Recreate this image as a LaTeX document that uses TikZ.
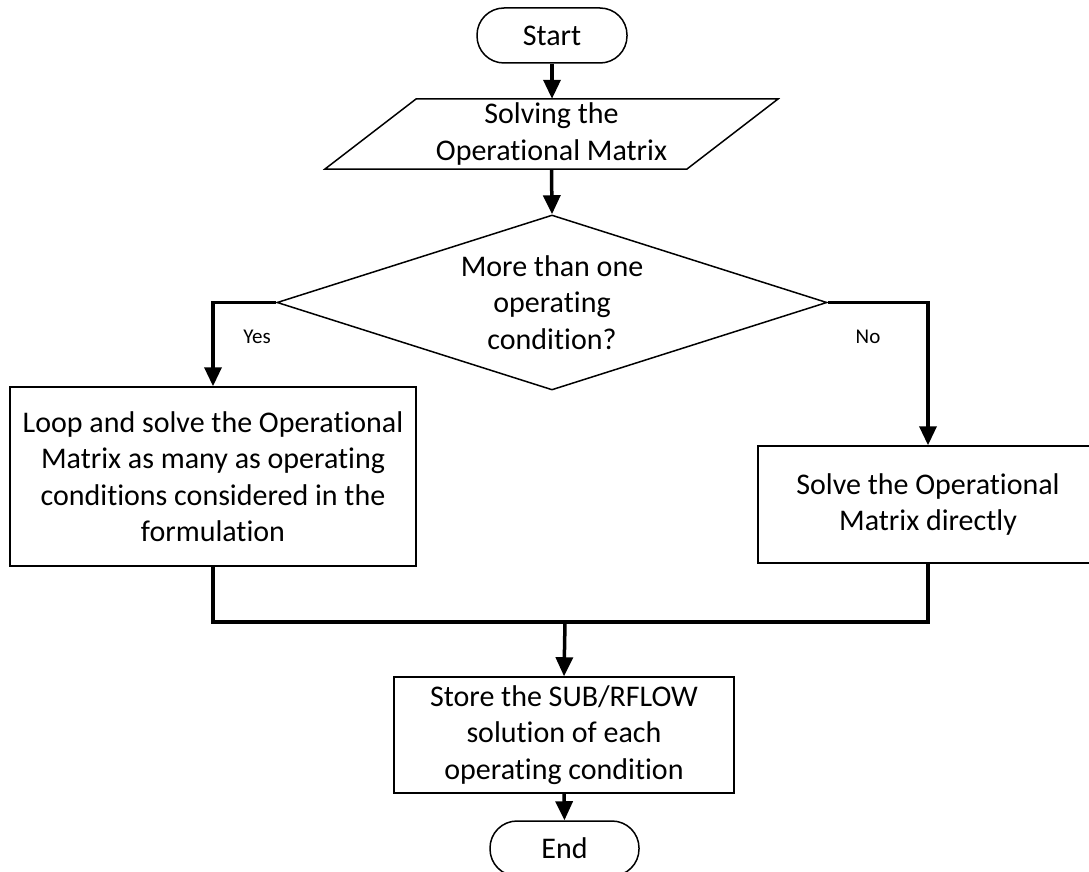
\documentclass[tikz,border=0pt]{standalone}
\usepackage{fontspec}
\setmainfont{Carlito}[RawFeature={-liga;-clig;-calt;-dlig}]
\usetikzlibrary{shapes.geometric,arrows.meta}
\tikzset{
  x=1pt, y=-1pt,
  shapeline/.style={draw=black, line width=1.5pt},
  boxnode/.style={shapeline, rectangle, align=center, inner sep=0pt,
    font=\fontsize{30}{36.5}\selectfont},
  termnode/.style={shapeline, rectangle, rounded corners=27pt, inner sep=0pt,
    font=\fontsize{30}{36.5}\selectfont},
  txt/.style={align=center, inner sep=0pt, font=\fontsize{30}{36.5}\selectfont},
  flow/.style={line width=3.5pt, -{Triangle[length=19pt,width=17pt]}},
  flowline/.style={line width=3.5pt},
  lbl/.style={inner sep=0pt, font=\fontsize{21}{24}\selectfont},
}
\begin{document}
\begin{tikzpicture}
\path[use as bounding box] (0,0) rectangle (1089,872);
\clip (0,0) rectangle (1089,872);

% Start
\node[termnode, minimum width=150pt, minimum height=55pt] (start) at (552,35.5) {Start};

% Parallelogram
\draw[shapeline, line join=miter] (416,99) -- (778,99) -- (687,169) -- (325,169) -- cycle;
\node[txt, minimum width=280pt, minimum height=70pt] (para) at (551.5,134)
  {Solving the\\Operational Matrix};

% Decision
\node[shapeline, diamond, minimum width=550pt, minimum height=175pt, inner sep=0pt,
  shape aspect=3.14, align=center, font=\fontsize{30}{36.5}\selectfont]
  (dec) at (552,302.5) {More than one\\operating\\condition?};

% Left box
\node[boxnode, minimum width=406pt, minimum height=179pt] (loop) at (213,476.5)
  {Loop and solve the Operational\\Matrix as many as operating\\conditions considered in the\\formulation};

% Right box (clipped at image edge)
\node[boxnode, minimum width=340pt, minimum height=117pt] (direct) at (928,504.5)
  {Solve the Operational\\Matrix directly};

% Store box
\node[boxnode, minimum width=340pt, minimum height=116pt] (store) at (564,735)
  {Store the SUB/RFLOW\\solution of each\\operating condition};

% End
\node[termnode, minimum width=149pt, minimum height=55pt] (end) at (564.5,848.5) {End};

\coordinate (join) at (565,622);

% Connectors
\draw[flow] (start.south) -- (start.south |- para.north);
\draw[flow] (para.south) -- (dec.north);
\draw[flow] (dec.west) -| (loop.north);
\draw[flow] (dec.east) -| (direct.north);
\draw[flowline] (loop.south) |- (join) -| (direct.south);
\draw[flow] (join) -- (store.north);
\draw[flow] (store.south) -- (end.north);

% Labels
\node[lbl] (yes) at (257,337) {Yes};
\node[lbl] (no) at (868,337) {No};
\end{tikzpicture}
\end{document}
